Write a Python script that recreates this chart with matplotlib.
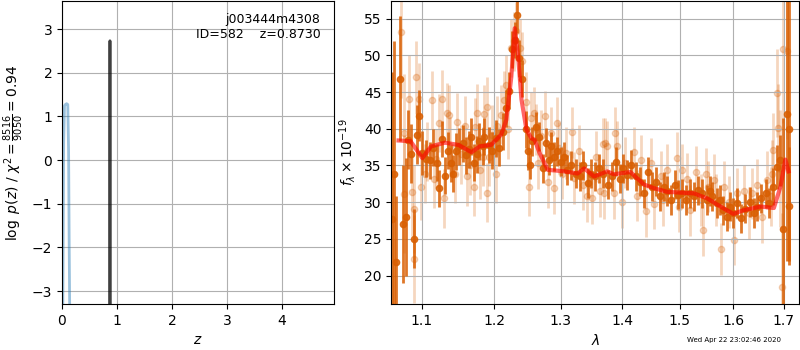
import numpy as np
import matplotlib
matplotlib.use('Agg')
import matplotlib.pyplot as plt
from matplotlib.ticker import NullLocator, FormatStrFormatter

# redshift panel
pz_blue_z = [0.015, 0.03, 0.045, 0.06, 0.085, 0.105, 0.12, 0.13, 0.14]
pz_blue_v = [-3.4, 0.4, 1.24, 1.27, 1.29, 1.27, 0.2, -1.8, -3.4]
pz_z = [0.866, 0.873, 0.880]
pz_v = [-3.4, 2.73, -3.4]
root, objid, zbest = 'j003444m4308', 582, 0.8730
chi2_num, chi2_den = 8516, 9050

# spectrum, bright beam
wave_a = [1.0610, 1.0636, 1.0667, 1.0707, 1.0747, 1.0787, 1.0813, 1.0853, 1.0889, 1.0933,
          1.0956, 1.1000, 1.1056, 1.1103, 1.1144, 1.1194, 1.1232, 1.1264, 1.1306, 1.1347,
          1.1385, 1.1413, 1.1464, 1.1500, 1.1551, 1.1593, 1.1639, 1.1672, 1.1708, 1.1750,
          1.1788, 1.1833, 1.1857, 1.1926, 1.1972, 1.2030, 1.2075, 1.2125, 1.2175, 1.2215,
          1.2264, 1.2299, 1.2334, 1.2364, 1.2403, 1.2463, 1.2499, 1.2522, 1.2563, 1.2612,
          1.2663, 1.2722, 1.2772, 1.2812, 1.2846, 1.2896, 1.2946, 1.2996, 1.3048, 1.3103,
          1.3161, 1.3237, 1.3302, 1.3355, 1.3426, 1.3479, 1.3548, 1.3613, 1.3677, 1.3758,
          1.3829, 1.3898, 1.3952, 1.4018, 1.4077, 1.4147, 1.4223, 1.4298, 1.4368, 1.4439,
          1.4516, 1.4579, 1.4649, 1.4719, 1.4779, 1.4849, 1.4907, 1.4965, 1.5044, 1.5106,
          1.5185, 1.5259, 1.5333, 1.5415, 1.5494, 1.5556, 1.5600, 1.5680, 1.5741, 1.5804,
          1.5878, 1.5939, 1.6000, 1.6080, 1.6148, 1.6234, 1.6320, 1.6400, 1.6468, 1.6548,
          1.6634, 1.6700, 1.6788, 1.6854, 1.6934, 1.6980, 1.7062, 1.7103, 1.7117]
flux_a = [27.7, 33.9, 21.8, 46.8, 27.0, 28.0, 38.5, 36.6, 25.0, 39.2,
          41.8, 36.7, 35.9, 35.7, 37.4, 35.4, 31.9, 38.6, 33.6, 37.0,
          35.3, 33.9, 36.9, 37.6, 38.0, 36.4, 37.2, 38.9, 35.4, 36.5,
          38.3, 37.6, 38.9, 37.8, 37.0, 38.7, 37.4, 39.6, 42.8, 45.2,
          50.8, 52.1, 55.5, 49.6, 46.8, 39.9, 36.9, 35.1, 38.3, 40.3,
          38.9, 34.6, 38.1, 35.7, 37.6, 36.2, 36.9, 35.5, 36.2, 34.4,
          35.0, 33.9, 33.5, 35.0, 32.6, 33.9, 33.5, 34.6, 33.9, 32.4,
          33.5, 35.5, 33.2, 34.6, 33.7, 35.1, 33.5, 32.8, 31.2, 34.1,
          32.1, 32.8, 30.8, 32.1, 31.5, 30.3, 32.4, 31.0, 31.2, 30.3,
          31.2, 30.8, 31.6, 31.2, 30.3, 31.5, 30.8, 29.9, 30.3, 28.9,
          28.0, 29.4, 28.5, 29.9, 27.8, 29.1, 30.0, 28.5, 29.4, 30.5,
          31.2, 29.9, 32.1, 34.8, 35.7, 26.4, 42.0, 40.0, 29.5]
err_a = [20.0, 18.0, 9.0, 8.5, 8.0, 8.0, 4.0, 4.0, 4.0, 4.0,
         3.5, 3.0, 2.5, 2.5, 2.5, 2.5, 2.5, 2.5, 2.5, 2.5,
         2.5, 2.5, 2.5, 2.5, 2.5, 2.5, 2.5, 2.5, 2.5, 2.5,
         2.5, 2.5, 2.5, 2.5, 2.5, 2.5, 2.5, 2.5, 2.5, 2.5,
         2.5, 2.5, 2.5, 2.5, 2.5, 2.5, 2.5, 2.0, 2.0, 2.0,
         2.0, 2.0, 2.0, 2.0, 2.0, 2.0, 2.0, 2.0, 2.0, 2.0,
         2.0, 2.0, 2.0, 2.0, 2.0, 2.0, 2.0, 2.0, 2.0, 2.0,
         2.0, 2.0, 2.0, 2.0, 2.0, 2.0, 2.0, 2.0, 2.0, 2.0,
         2.0, 2.0, 2.0, 2.0, 2.0, 2.0, 2.0, 2.0, 2.0, 2.0,
         2.0, 2.0, 2.0, 2.0, 2.0, 2.0, 2.0, 2.0, 2.0, 2.0,
         2.0, 2.0, 2.0, 2.0, 2.0, 2.0, 2.0, 2.0, 2.0, 2.0,
         2.0, 2.0, 2.5, 3.0, 3.5, 15.0, 20.0, 18.0, 8.0]

# spectrum, faint beam
wave_b = [1.0725, 1.0765, 1.0769, 1.0832, 1.0867, 1.0889, 1.0893, 1.0920, 1.0965, 1.0992,
          1.1038, 1.1069, 1.1139, 1.1163, 1.1186, 1.1232, 1.1264, 1.1292, 1.1333, 1.1361,
          1.1371, 1.1440, 1.1478, 1.1524, 1.1579, 1.1611, 1.1649, 1.1704, 1.1728, 1.1750,
          1.1797, 1.1833, 1.1857, 1.1889, 1.1894, 1.1926, 1.1972, 1.2020, 1.2044, 1.2099,
          1.2134, 1.2164, 1.2199, 1.2249, 1.2284, 1.2314, 1.2384, 1.2413, 1.2463, 1.2507,
          1.2548, 1.2582, 1.2612, 1.2648, 1.2697, 1.2761, 1.2797, 1.2846, 1.2896, 1.2936,
          1.2970, 1.3023, 1.3076, 1.3173, 1.3210, 1.3290, 1.3345, 1.3410, 1.3495, 1.3560,
          1.3624, 1.3684, 1.3694, 1.3705, 1.3737, 1.3855, 1.3882, 1.3910, 1.4000, 1.4047,
          1.4193, 1.4253, 1.4323, 1.4398, 1.4486, 1.4544, 1.4661, 1.4709, 1.4779, 1.4954,
          1.4982, 1.5044, 1.5124, 1.5185, 1.5290, 1.5383, 1.5433, 1.5476, 1.5519, 1.5630,
          1.5661, 1.5767, 1.5815, 1.5926, 1.6014, 1.6068, 1.6200, 1.6300, 1.6368, 1.6468,
          1.6568, 1.6668, 1.6734, 1.6768, 1.6788, 1.6854, 1.6888, 1.6934, 1.6960, 1.6988,
          1.7075]
flux_b = [53.2, 39.4, 31.1, 44.0, 31.4, 29.1, 22.2, 47.0, 44.0, 32.1,
          33.9, 36.9, 43.9, 33.2, 35.9, 40.8, 44.0, 30.5, 42.2, 41.9,
          37.6, 33.9, 40.9, 36.5, 40.4, 33.5, 35.0, 32.1, 40.2, 42.1,
          34.4, 36.2, 42.0, 31.3, 43.0, 36.2, 39.2, 33.9, 40.4, 41.9,
          43.9, 46.0, 39.9, 51.0, 51.9, 53.3, 51.0, 49.2, 43.7, 32.1,
          41.5, 42.2, 39.9, 35.3, 39.0, 41.7, 32.7, 39.4, 31.9, 40.8,
          37.4, 33.9, 36.7, 39.5, 33.3, 37.0, 32.4, 30.8, 30.5, 36.2,
          31.5, 37.9, 31.2, 38.0, 37.6, 31.2, 39.4, 37.6, 30.0, 35.4,
          36.8, 30.9, 35.7, 28.8, 35.3, 29.8, 33.5, 30.3, 34.4, 36.0,
          29.4, 34.4, 33.2, 28.9, 34.1, 30.3, 26.2, 33.9, 32.1, 33.0,
          30.3, 23.6, 32.1, 30.0, 24.9, 31.2, 31.5, 28.5, 31.2, 32.4,
          28.0, 33.0, 30.8, 33.9, 37.1, 44.9, 40.1, 34.6, 18.5, 50.8,
          50.6]
err_b = [9.0, 8.0, 8.0, 6.0, 6.0, 6.0, 6.0, 5.0, 5.0, 4.5,
         4.0, 4.0, 4.0, 4.0, 4.0, 4.0, 4.0, 4.0, 4.0, 4.0,
         4.0, 4.0, 4.0, 4.0, 4.0, 4.0, 4.0, 4.0, 4.0, 4.0,
         4.0, 4.0, 4.0, 4.0, 4.0, 4.0, 4.0, 4.0, 4.0, 4.0,
         4.0, 4.0, 4.0, 4.0, 4.0, 4.0, 4.0, 4.0, 4.0, 4.0,
         3.5, 3.5, 3.5, 3.5, 3.5, 3.5, 3.5, 3.5, 3.5, 3.5,
         3.5, 3.5, 3.5, 3.5, 3.5, 3.5, 3.5, 3.5, 3.5, 3.5,
         3.5, 3.5, 3.5, 3.5, 3.5, 3.5, 3.5, 3.5, 3.5, 3.5,
         3.5, 3.5, 3.5, 3.5, 3.5, 3.5, 3.5, 3.5, 3.5, 3.5,
         3.5, 3.5, 3.5, 3.5, 3.5, 3.5, 3.5, 3.5, 3.5, 3.5,
         3.5, 3.5, 3.5, 3.5, 3.5, 3.5, 3.5, 3.5, 3.5, 3.5,
         3.5, 4.0, 4.0, 4.5, 5.0, 6.0, 6.0, 8.0, 10.0, 10.0,
         12.0]

# best-fit model
wave_m = [1.0694, 1.0850, 1.1005, 1.1121, 1.1306, 1.1492, 1.1676, 1.1792, 1.1954, 1.2100,
          1.2175, 1.2249, 1.2299, 1.2349, 1.2399, 1.2473, 1.2548, 1.2597, 1.2672, 1.2797,
          1.3048, 1.3265, 1.3371, 1.3532, 1.3748, 1.3855, 1.4135, 1.4368, 1.4544, 1.4779,
          1.5013, 1.5259, 1.5507, 1.5754, 1.6000, 1.6200, 1.6534, 1.6800, 1.6934, 1.7034,
          1.7100]
flux_m = [38.4, 38.3, 36.0, 37.6, 38.1, 37.8, 36.8, 37.6, 37.8, 39.2,
          41.2, 47.1, 53.7, 49.9, 44.0, 39.9, 38.7, 38.5, 36.7, 34.4,
          34.2, 33.9, 34.6, 33.5, 34.2, 33.8, 34.1, 32.4, 31.9, 31.4,
          31.3, 31.2, 30.5, 29.4, 28.4, 28.9, 29.4, 29.2, 32.1, 35.8,
          34.2]

orange = '#d95f02'

fig = plt.figure(figsize=(8, 3.5), dpi=100)
ax = fig.add_axes([0.0775, 0.131, 0.34, 0.866])
ax.plot(pz_blue_z, pz_blue_v, color='tab:blue', alpha=0.45, lw=2)
ax.plot(pz_z, pz_v, color='k', alpha=0.75, lw=2)
ax.set_xlim(0, 4.95)
ax.set_ylim(-3.3, 3.64)
ax.grid()
ax.set_xlabel(r'$z$')
ax.set_ylabel(r'$\log\ p(z)$ / $\chi^2=\frac{%d}{%d}=%.2f$'
              % (chi2_num, chi2_den, chi2_num / chi2_den))
ax.text(0.95, 0.96, root + '\n' + 'ID={0:<5d}  z={1:.4f}'.format(objid, zbest),
        ha='right', va='top', transform=ax.transAxes, fontsize=9)

ax = fig.add_axes([0.489, 0.131, 0.51, 0.866])
ax.errorbar(wave_b, flux_b, yerr=err_b, color=orange, alpha=0.25, marker='o',
            ms=4.5, linestyle='None', elinewidth=2, zorder=1)
ax.errorbar(wave_a, flux_a, yerr=err_a, color=orange, alpha=0.85, marker='o',
            ms=4.5, linestyle='None', elinewidth=2, zorder=2)
ax.plot(wave_m, flux_m, color='r', alpha=0.6, lw=3, zorder=3)
ax.set_xscale('log')
ax.set_xticks([1.1, 1.2, 1.3, 1.4, 1.5, 1.6, 1.7])
ax.xaxis.set_major_formatter(FormatStrFormatter('%.1f'))
ax.xaxis.set_minor_locator(NullLocator())
ax.set_xlim(1.060, 1.732)
ax.set_ylim(16.1, 57.4)
ax.grid()
ax.set_xlabel(r'$\lambda$')
ax.set_ylabel(r'$f_\lambda \times 10^{-19}$')

fig.text(0.976, 0.02, 'Wed Apr 22 23:02:46 2020', ha='right', va='bottom', fontsize=5)
fig.savefig('out.png', dpi=100)
